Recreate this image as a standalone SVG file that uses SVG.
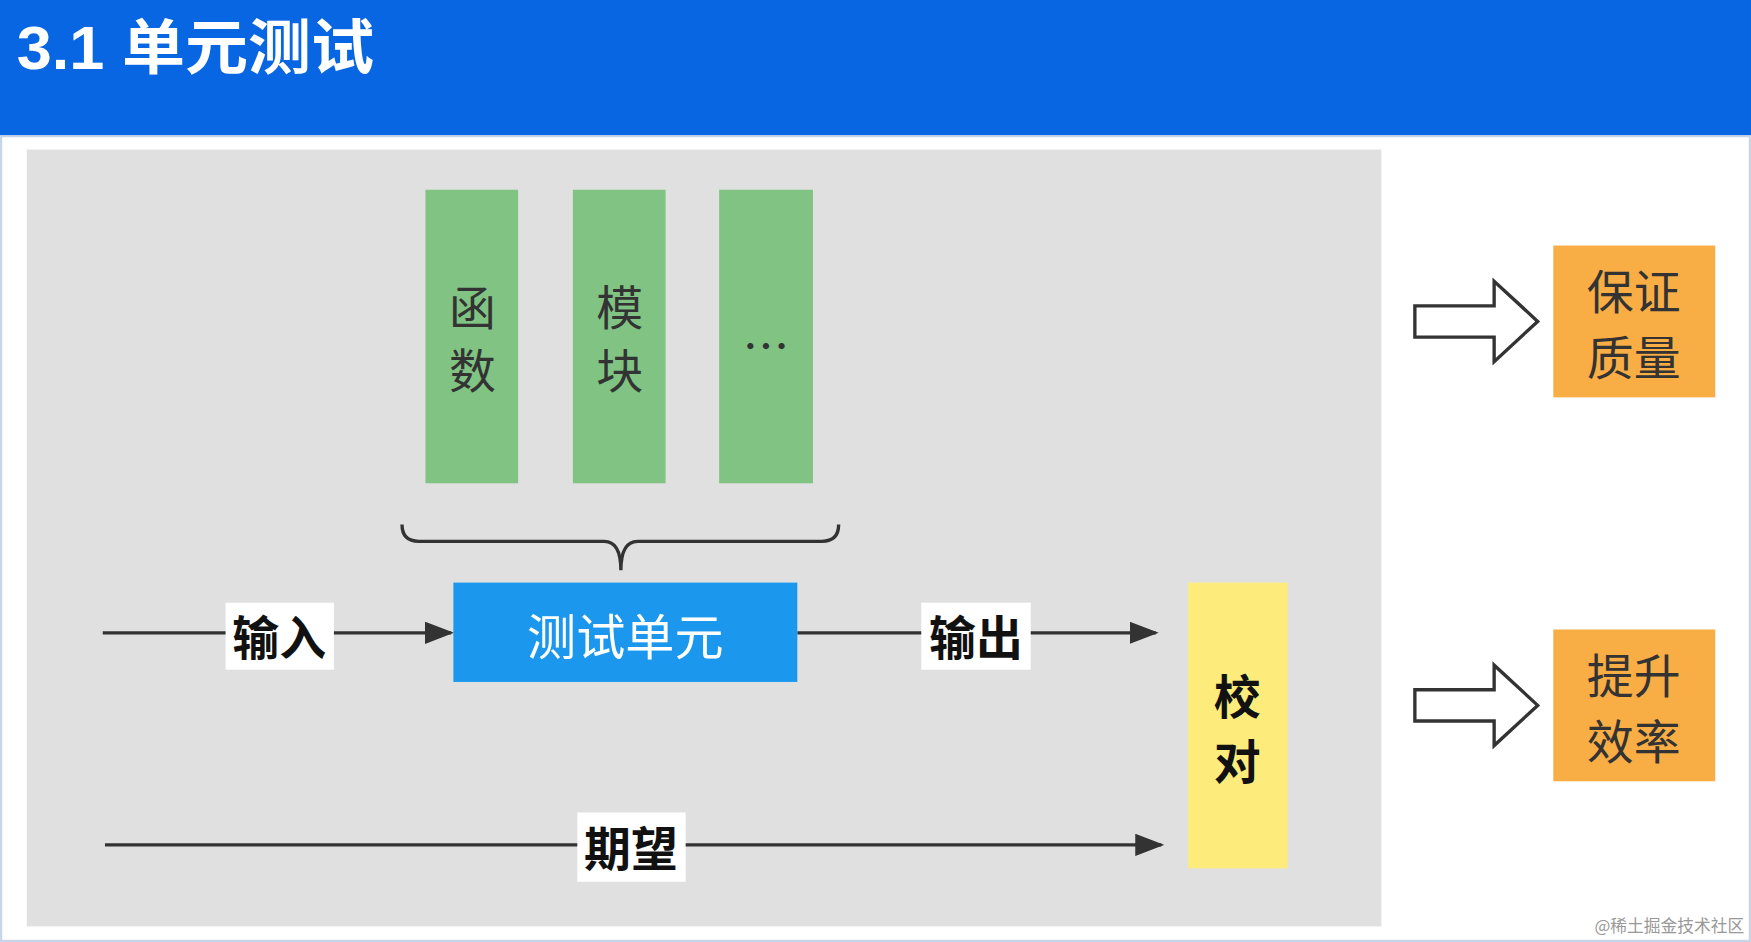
<svg xmlns="http://www.w3.org/2000/svg" width="1751" height="942" viewBox="0 0 1751 942">
<style>
.cn{font-family:"Noto Sans CJK SC","Liberation Sans",sans-serif;text-anchor:middle;dominant-baseline:central}
.lbl{font-size:42px;font-weight:bold;fill:#111}
.big{font-size:42px;fill:#333}
.line{stroke:#333;stroke-width:3;fill:none}
</style>
<defs>
<marker id="a2" viewBox="0 0 10 10" refX="9" refY="5" markerWidth="26" markerHeight="20" markerUnits="userSpaceOnUse" orient="auto" preserveAspectRatio="none"><path d="M0,0 L10,5 L0,10 z" fill="#333"/></marker>
</defs>
<rect width="1751" height="942" fill="#ffffff"/>
<g transform="scale(1.1167,1.1161)">
<rect x="0" y="0" width="1568" height="122" fill="#0866e2"/>
<text x="15" y="62" font-family="Liberation Sans,'Noto Sans CJK SC',sans-serif" font-size="54" font-weight="bold" fill="#fff" textLength="320" lengthAdjust="spacingAndGlyphs">3.1 单元测试</text>
<rect x="1" y="122" width="1566" height="721" fill="none" stroke="#c8d4e8" stroke-width="2"/>
<rect x="24" y="134" width="1213" height="696" fill="#e0e0e0"/>
<g id="connectors">
<path class="line" d="M360,470 Q360,485 375,485 L541,485 Q556,485 556,511 Q556,485 571,485 L736,485 Q751,485 751,470"/>
<line class="line" x1="92" y1="567" x2="404" y2="567" marker-end="url(#a2)"/>
<line class="line" x1="714" y1="567" x2="1035" y2="567" marker-end="url(#a2)"/>
<line class="line" x1="94" y1="757" x2="1040" y2="757" marker-end="url(#a2)"/>
<rect x="202" y="540" width="97" height="60" fill="#fff"/>
<text class="cn lbl" x="250" y="569">输入</text>
<rect x="825" y="540" width="98" height="60" fill="#fff"/>
<text class="cn lbl" x="874" y="569">输出</text>
<rect x="517" y="728" width="97" height="62" fill="#fff"/>
<text class="cn lbl" x="565" y="758">期望</text>
<path d="M1267,274 H1338 V252 L1377,288 L1338,324 V302 H1267 Z" fill="#fff" stroke="#333" stroke-width="3"/>
<path d="M1267,618 H1338 V596 L1377,632 L1338,668 V646 H1267 Z" fill="#fff" stroke="#333" stroke-width="3"/>
</g>
<g id="func"><rect x="381" y="170" width="83" height="263" fill="#80c383"/><text class="cn big" x="423" y="273">函</text><text class="cn big" x="423" y="330">数</text></g>
<g id="module"><rect x="513" y="170" width="83" height="263" fill="#80c383"/><text class="cn big" x="555" y="273">模</text><text class="cn big" x="555" y="330">块</text></g>
<g id="etc"><rect x="644" y="170" width="84" height="263" fill="#80c383"/><text class="cn big" x="686" y="308">…</text></g>
<g id="unit"><rect x="406" y="522" width="308" height="89" fill="#1b98ee"/><text class="cn" x="560" y="568" font-size="44" fill="#fff">测试单元</text></g>
<g id="check"><rect x="1064" y="522" width="89" height="256" fill="#fdec7c"/><text class="cn lbl" x="1108" y="622">校</text><text class="cn lbl" x="1108" y="680">对</text></g>
<g id="quality"><rect x="1391" y="220" width="145" height="136" fill="#f8ad45"/><text class="cn big" x="1463" y="259">保证</text><text class="cn big" x="1463" y="318">质量</text></g>
<g id="efficiency"><rect x="1391" y="564" width="145" height="136" fill="#f8ad45"/><text class="cn big" x="1463" y="603">提升</text><text class="cn big" x="1463" y="662">效率</text></g>
<text x="1562" y="835" text-anchor="end" font-family="'Noto Sans CJK SC',sans-serif" font-size="15" fill="#999">@稀土掘金技术社区</text>
</g>
</svg>
